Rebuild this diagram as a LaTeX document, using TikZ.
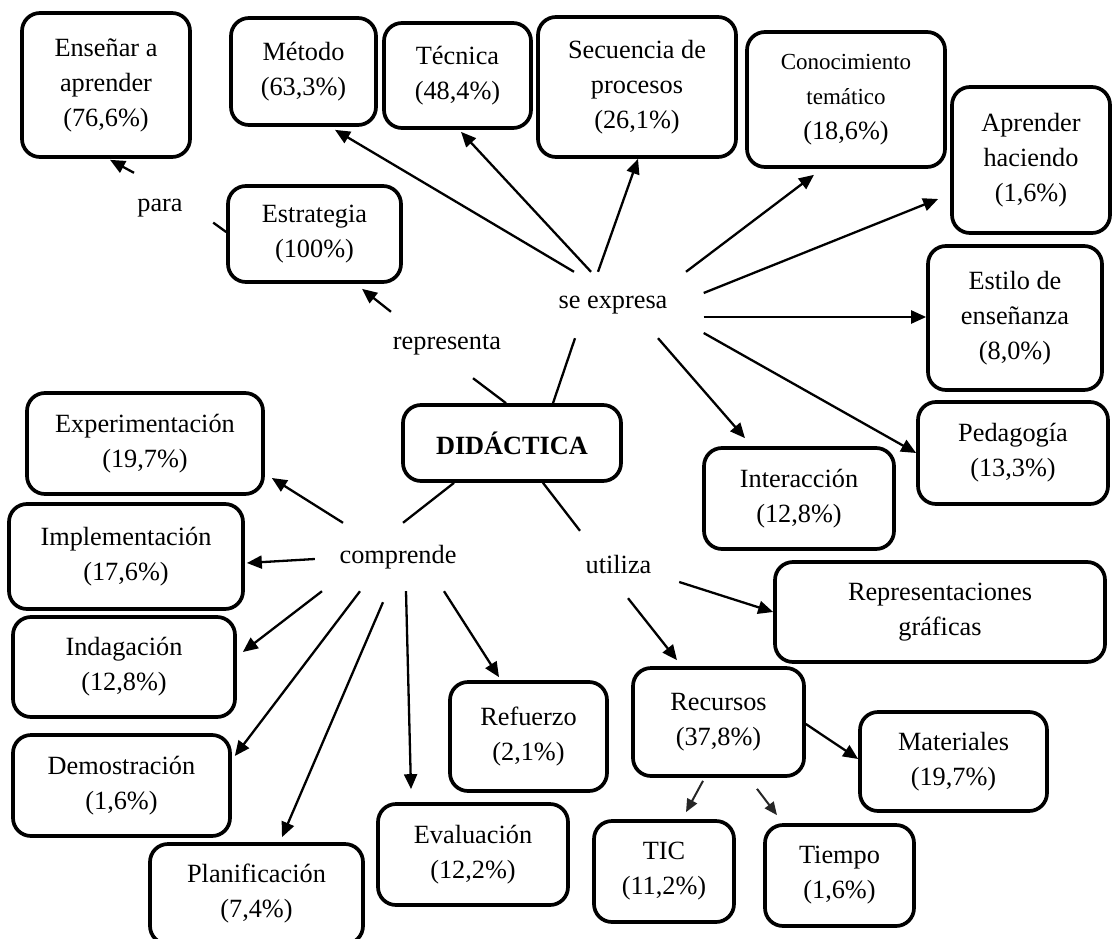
\documentclass[tikz,border=0pt]{standalone}
\usepackage{fontspec}
\setmainfont{Liberation Serif}
\usetikzlibrary{arrows.meta}

\newcommand{\mapfont}{\fontsize{26.3pt}{35pt}\selectfont}
\newcommand{\smallmapfont}{\fontsize{23pt}{32pt}\selectfont}

\tikzset{
  concept/.style={draw, line width=3.7pt, rounded corners=18pt, align=center,
    inner sep=0pt, font=\mapfont},
  linkword/.style={fill=white, inner sep=0pt, align=center, font=\mapfont},
  link/.style={line width=2.3pt},
  arr/.style={link, -{Triangle[length=15pt,width=13pt]}},
  softarr/.style={line width=2pt, black!85, -{Triangle[length=13pt,width=11pt]}},
}

\begin{document}
\begin{tikzpicture}[x=1pt, y=-1pt]
\useasboundingbox (0,0) rectangle (1113,939);

% concept boxes
\node[concept, minimum width=168pt, minimum height=144pt] (ens) at (106,85) {Enseñar a\\aprender\\(76,6\%)};
\node[concept, minimum width=145pt, minimum height=107pt] (met) at (303.5,71.5) {Método\\(63,3\%)};
\node[concept, minimum width=147pt, minimum height=105pt] (tec) at (457.5,75.5) {Técnica\\(48,4\%)};
\node[concept, minimum width=198pt, minimum height=140pt] (sec) at (637,87) {Secuencia de\\procesos\\(26,1\%)};
\node[concept, minimum width=198pt, minimum height=135pt] (con) at (846,99.5)
  {{\smallmapfont Conocimiento}\\{\smallmapfont temático}\\(18,6\%)};
\node[concept, minimum width=158pt, minimum height=146pt] (apr) at (1031,160) {Aprender\\haciendo\\(1,6\%)};
\node[concept, minimum width=174pt, minimum height=144pt] (est) at (1015,318) {Estilo de\\enseñanza\\(8,0\%)};
\node[concept, minimum width=190pt, minimum height=102pt] (ped) at (1013,453) {Pedagogía\\(13,3\%)};
\node[concept, minimum width=190pt, minimum height=101pt] (int) at (799,498.5) {Interacción\\(12,8\%)};
\node[concept, minimum width=330pt, minimum height=100pt] (rep) at (940,612) {Representaciones\\gráficas};
\node[concept, minimum width=171pt, minimum height=108pt] (rec) at (718.5,722) {Recursos\\(37,8\%)};
\node[concept, minimum width=187pt, minimum height=99pt] (mat) at (953.5,761.5) {Materiales\\(19,7\%)};
\node[concept, minimum width=140pt, minimum height=101pt] (tic) at (664,871.5) {TIC\\(11,2\%)};
\node[concept, minimum width=149pt, minimum height=101pt] (tie) at (839.5,875.5) {Tiempo\\(1,6\%)};
\node[concept, minimum width=157pt, minimum height=109pt] (ref) at (528.5,736.5) {Refuerzo\\(2,1\%)};
\node[concept, minimum width=190pt, minimum height=101pt] (eva) at (473,854.5) {Evaluación\\(12,2\%)};
\node[concept, minimum width=234pt, minimum height=105pt] (imp) at (126,556.5) {Implementación\\(17,6\%)};
\node[concept, minimum width=222pt, minimum height=100pt] (ind) at (124,667) {Indagación\\(12,8\%)};
\node[concept, minimum width=217pt, minimum height=101pt] (dem) at (121.5,785.5) {Demostración\\(1,6\%)};
\node[concept, minimum width=213pt, minimum height=100pt] (pla) at (256.5,894) {Planificación\\(7,4\%)};
\node[concept, minimum width=236pt, minimum height=101pt] (exp) at (145,443.5) {Experimentación\\(19,7\%)};
\node[concept, minimum width=173pt, minimum height=96pt] (estr) at (314.5,234) {Estrategia\\(100\%)};
\node[concept, minimum width=218pt, minimum height=76pt] (did) at (512,443) {\textbf{DIDÁCTICA}};

% linking words
\node[linkword, minimum width=106pt, minimum height=70pt] (para) at (160,208) {para};
\node[linkword, minimum width=140pt, minimum height=66pt] (repr) at (447,345) {representa};
\node[linkword, minimum width=181pt, minimum height=66pt] (sexp) at (613,305) {se expresa};
\node[linkword, minimum width=166pt, minimum height=68pt] (cmp) at (398,557) {comprende};
\node[linkword, minimum width=121pt, minimum height=67pt] (uti) at (618.5,564.5) {utiliza};

% Estrategia -> para -> Enseñar a aprender
\draw[link] ([yshift=2]estr.west) -- ([yshift=-14.6]para.east);
\draw[arr] ([xshift=-26]para.north) -- ([xshift=4,yshift=-1]ens.south);

% DIDÁCTICA -> representa -> Estrategia
\draw[link] ([xshift=-6]did.north) -- ([xshift=26]repr.south);
\draw[arr] ([xshift=-56]repr.north) -- ([xshift=47.5,yshift=-5]estr.south);

% DIDÁCTICA -> se expresa
\draw[link] ([xshift=41]did.north) -- ([xshift=-38]sexp.south);
\draw[arr] ([xshift=-39]sexp.north) -- ([xshift=31.5,yshift=-3]met.south);
\draw[arr] ([xshift=-22]sexp.north) -- ([xshift=3.5,yshift=-2]tec.south);
\draw[arr] ([xshift=-15]sexp.north) -- ([xshift=1]sec.south);
\draw[arr] ([xshift=73]sexp.north) -- ([xshift=-32,yshift=-6]con.south);
\draw[arr] ([yshift=12]sexp.east) -- ([xshift=-12,yshift=-39]apr.west);
\draw[arr] ([yshift=-12]sexp.east) -- ([yshift=1]est.west);
\draw[arr] ([yshift=-28]sexp.east) -- (ped.west);
\draw[arr] ([xshift=45]sexp.south) -- ([xshift=-54,yshift=8]int.north);

% DIDÁCTICA -> comprende
\draw[link] ([xshift=-58]did.south) -- ([xshift=5]cmp.north);
\draw[arr] ([xshift=-55]cmp.north) -- ([xshift=7,yshift=-34.5]exp.east);
\draw[arr] ([yshift=-2]cmp.west) -- ([xshift=2,yshift=-6.5]imp.east);
\draw[arr] ([xshift=-76]cmp.south) -- ([xshift=6,yshift=15]ind.east);
\draw[arr] ([xshift=-38]cmp.south) -- ([xshift=3,yshift=29.5]dem.east);
\draw[arr] ([xshift=-15,yshift=-11]cmp.south) -- ([xshift=25.5,yshift=5]pla.north);
\draw[arr] ([xshift=8]cmp.south) -- ([xshift=-62,yshift=13]eva.north);
\draw[arr] ([xshift=46]cmp.south) -- ([xshift=-29.5,yshift=3]ref.north);

% DIDÁCTICA -> utiliza
\draw[link] ([xshift=31]did.south) -- ([xshift=-38.5]uti.north);
\draw[arr] ([yshift=-17.5]uti.east) -- (rep.west);
\draw[arr] ([xshift=9.5]uti.south) -- ([xshift=-41.5,yshift=6]rec.north);

% Recursos -> its parts
\draw[arr] ([yshift=-2]rec.east) -- ([yshift=2.5]mat.west);
\draw[softarr] ([xshift=-15.5,yshift=-3]rec.south) -- ([xshift=22,yshift=7]tic.north);
\draw[softarr] ([xshift=38.5,yshift=-11]rec.south) -- ([xshift=-62.5,yshift=8]tie.north);
\end{tikzpicture}
\end{document}
